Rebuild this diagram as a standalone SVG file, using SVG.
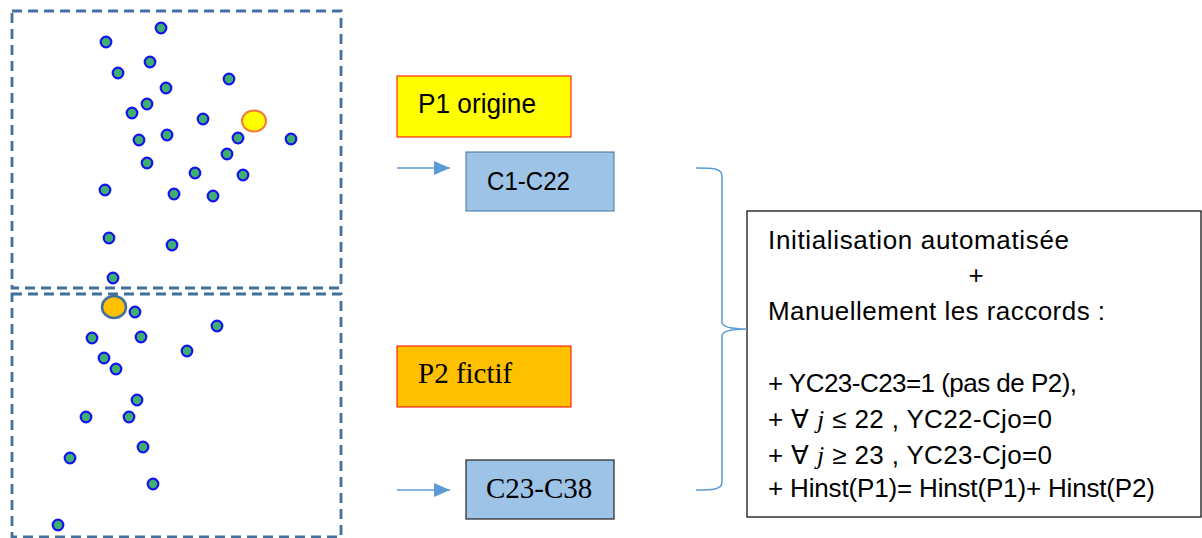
<svg xmlns="http://www.w3.org/2000/svg" width="1202" height="538" viewBox="0 0 1202 538">
<style>
.zone{fill:none;stroke:#41719C;stroke-width:2.8;stroke-dasharray:10 6}
.dot{fill:#3FAE6E;stroke:#1414F0;stroke-width:2.2}
.sans{font-family:"Liberation Sans",Arial,sans-serif;fill:#000}
.serif{font-family:"Liberation Serif","Times New Roman",serif;fill:#000}
.conn{stroke:#5B9BD5;stroke-width:1.5;fill:none}
.note{font-family:"Liberation Sans",Arial,sans-serif;font-size:26px;fill:#000}
</style>
<defs>
<marker id="ah" markerUnits="userSpaceOnUse" markerWidth="16" markerHeight="14" refX="16" refY="7" orient="auto">
<path d="M0,0 L16,7 L0,14 Z" fill="#5B9BD5"/>
</marker>
</defs>
<g id="zone-p1">
<rect class="zone" x="12" y="11" width="329" height="277"/>
<circle class="dot" cx="161" cy="28" r="5.3"/>
<circle class="dot" cx="106" cy="42" r="5.3"/>
<circle class="dot" cx="150" cy="62" r="5.3"/>
<circle class="dot" cx="118" cy="73" r="5.3"/>
<circle class="dot" cx="229" cy="79" r="5.3"/>
<circle class="dot" cx="166" cy="88" r="5.3"/>
<circle class="dot" cx="147" cy="104" r="5.3"/>
<circle class="dot" cx="132" cy="113" r="5.3"/>
<circle class="dot" cx="203" cy="119" r="5.3"/>
<circle class="dot" cx="238" cy="138" r="5.3"/>
<circle class="dot" cx="291" cy="139" r="5.3"/>
<circle class="dot" cx="139" cy="140" r="5.3"/>
<circle class="dot" cx="167" cy="135" r="5.3"/>
<circle class="dot" cx="227" cy="154" r="5.3"/>
<circle class="dot" cx="147" cy="163" r="5.3"/>
<circle class="dot" cx="195" cy="173" r="5.3"/>
<circle class="dot" cx="243" cy="175" r="5.3"/>
<circle class="dot" cx="105" cy="190" r="5.3"/>
<circle class="dot" cx="174" cy="194" r="5.3"/>
<circle class="dot" cx="213" cy="196" r="5.3"/>
<circle class="dot" cx="109" cy="238" r="5.3"/>
<circle class="dot" cx="172" cy="245" r="5.3"/>
<circle class="dot" cx="113" cy="278" r="5.3"/>
<ellipse cx="254" cy="121" rx="12" ry="10.5" fill="#FFFF00" stroke="#F4793B" stroke-width="2"/>
</g>
<g id="zone-p2">
<rect class="zone" x="12" y="294" width="329" height="243"/>
<circle class="dot" cx="135" cy="312" r="5.3"/>
<circle class="dot" cx="217" cy="326" r="5.3"/>
<circle class="dot" cx="92" cy="338" r="5.3"/>
<circle class="dot" cx="141" cy="337" r="5.3"/>
<circle class="dot" cx="187" cy="351" r="5.3"/>
<circle class="dot" cx="104" cy="358" r="5.3"/>
<circle class="dot" cx="116" cy="369" r="5.3"/>
<circle class="dot" cx="137" cy="400" r="5.3"/>
<circle class="dot" cx="86" cy="417" r="5.3"/>
<circle class="dot" cx="129" cy="417" r="5.3"/>
<circle class="dot" cx="143" cy="447" r="5.3"/>
<circle class="dot" cx="70" cy="458" r="5.3"/>
<circle class="dot" cx="153" cy="484" r="5.3"/>
<circle class="dot" cx="58" cy="525" r="5.3"/>
<ellipse cx="114" cy="307" rx="12" ry="11" fill="#FFC000" stroke="#41719C" stroke-width="2.5"/>
</g>
<g id="p1-origine">
<rect x="397" y="76" width="174" height="61" fill="#FFFF00" stroke="#FF0000" stroke-width="1"/>
<text class="sans" x="418" y="113" font-size="27" textLength="118" lengthAdjust="spacingAndGlyphs">P1 origine</text>
</g>
<g id="c1-c22">
<rect x="466" y="152" width="148" height="59" fill="#9DC3E6" stroke="#41719C" stroke-width="1"/>
<text class="sans" x="487" y="190" font-size="26" textLength="83" lengthAdjust="spacingAndGlyphs">C1-C22</text>
</g>
<g id="p2-fictif">
<rect x="397" y="346" width="174" height="61" fill="#FFC000" stroke="#FF0000" stroke-width="1"/>
<text class="serif" x="418" y="383" font-size="29">P2 fictif</text>
</g>
<g id="c23-c38">
<rect x="466" y="460" width="148" height="59" fill="#9DC3E6" stroke="#222" stroke-width="1.2"/>
<text class="serif" x="486" y="498" font-size="29">C23-C38</text>
</g>
<g id="note">
<rect x="747" y="211" width="454" height="306" fill="#fff" stroke="#000" stroke-width="1.2"/>
<text class="note" x="768" y="249" textLength="301">Initialisation automatisée</text>
<text class="note" x="976" y="284" text-anchor="middle">+</text>
<text class="note" x="768" y="320" textLength="337">Manuellement les raccords :</text>
<text class="note" x="768" y="392" textLength="309">+ YC23-C23=1 (pas de P2),</text>
<text class="note" x="768" y="428" textLength="284">+ ∀ <tspan class="serif" font-style="italic">j</tspan> ≤ 22 , YC22-Cjo=0</text>
<text class="note" x="768" y="464" textLength="284">+ ∀ <tspan class="serif" font-style="italic">j</tspan> ≥ 23 , YC23-Cjo=0</text>
<text class="note" x="768" y="497" textLength="387">+ Hinst(P1)= Hinst(P1)+ Hinst(P2)</text>
</g>
<g id="connectors">
<line class="conn" x1="397" y1="168" x2="450" y2="168" marker-end="url(#ah)"/>
<line class="conn" x1="397" y1="490" x2="450" y2="490" marker-end="url(#ah)"/>
<path class="conn" d="M696,168 C712,168 722,168 722,176 L722,322 C722,328 735,329 747,329 C735,329 722,330 722,336 L722,482 C722,490 712,490 696,490"/>
</g>
</svg>
